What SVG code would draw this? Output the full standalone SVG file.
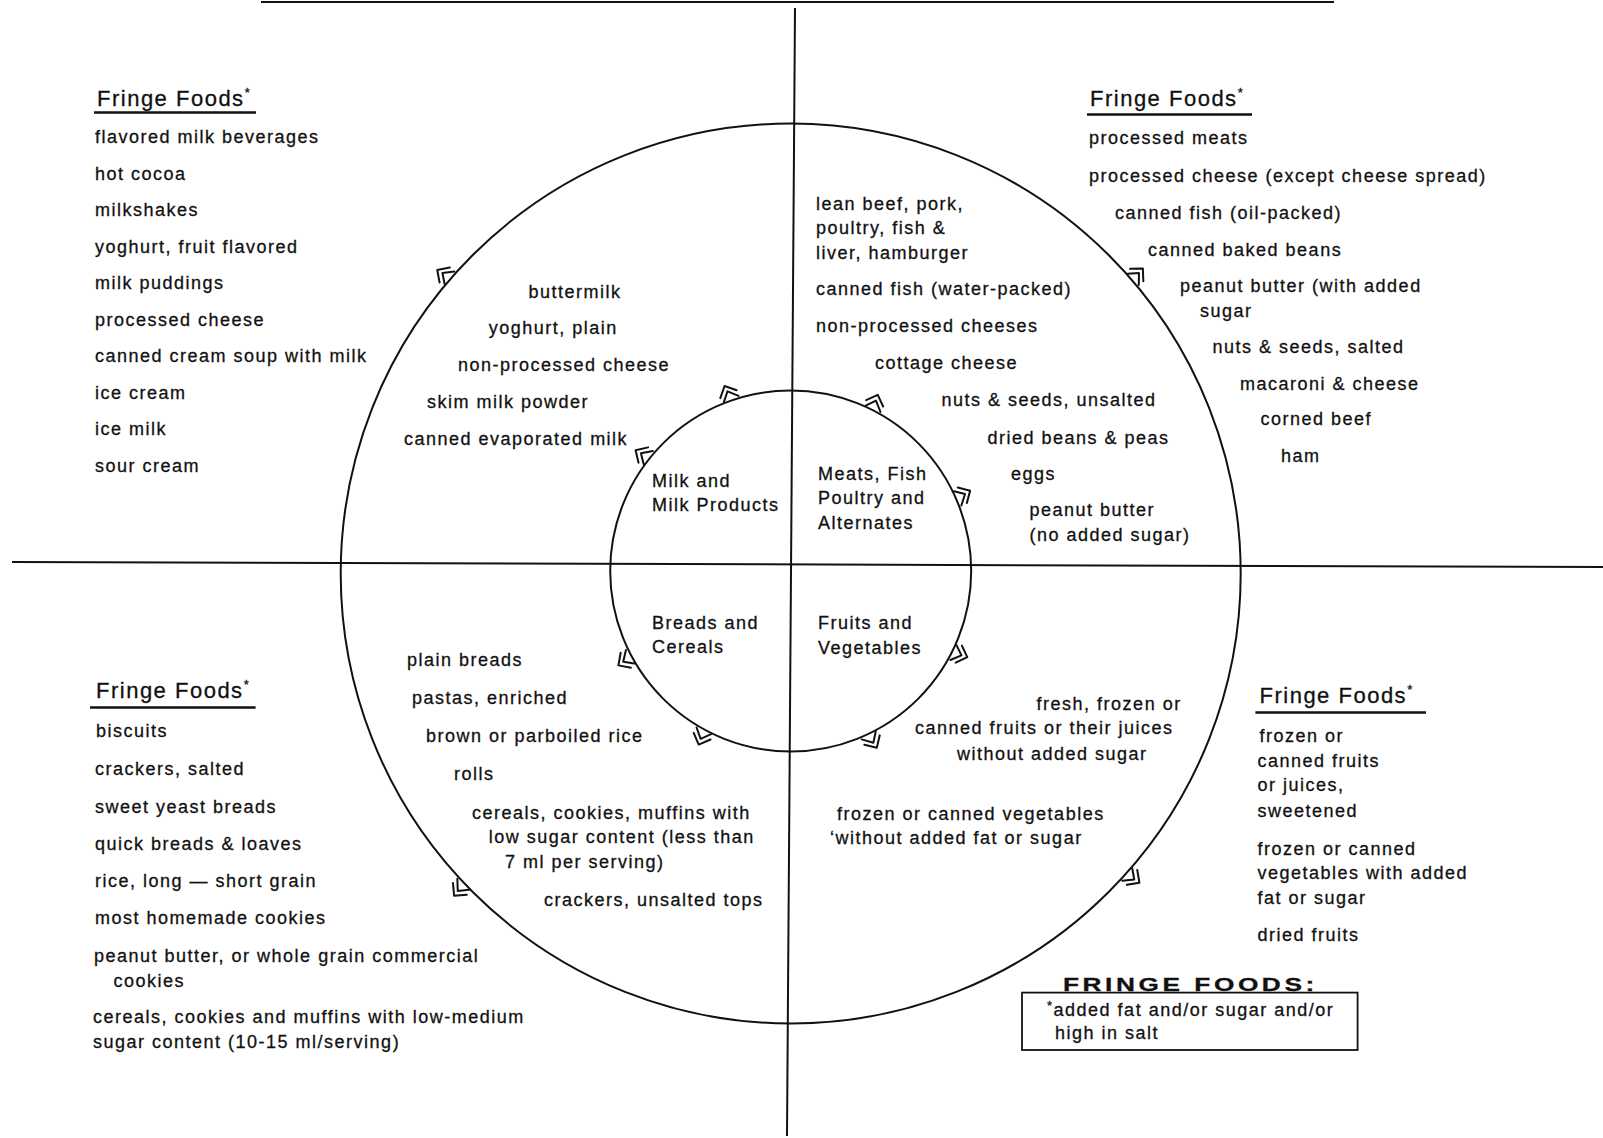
<svg xmlns="http://www.w3.org/2000/svg" width="1603" height="1138" viewBox="0 0 1603 1138">
<style>
text{font-family:"Liberation Sans",Arial,sans-serif;font-size:18px;letter-spacing:1.5px;fill:#111;stroke:#111;stroke-width:0.3px}
.h{font-size:22px;letter-spacing:1.5px}
.sup{font-size:13px}
.ln{stroke:#111;stroke-width:2;fill:none}
.ul{stroke:#111;stroke-width:2.5}
.mk{stroke:#111;stroke-width:2;fill:none;stroke-linecap:round;stroke-linejoin:round}
.leg{font-size:19px;font-weight:bold;letter-spacing:2.6px}
</style>
<defs>
<g id="chev">
<path class="mk" d="M -9,-6 L -1,-16 L 9,-8"/>
<path class="mk" d="M -7,-1 L 0,-10 L 9,-2"/>
</g>
</defs>
<rect width="1603" height="1138" fill="#fff"/>

<g id="connectors">
<line class="ln" x1="261" y1="2" x2="1334" y2="2"/>
<line class="ln" x1="795" y1="8" x2="787" y2="1136"/>
<line class="ln" x1="12" y1="562" x2="1603" y2="567"/>
<circle class="ln" cx="790.7" cy="573.5" r="450"/>
<circle class="ln" cx="790.7" cy="571" r="180.5"/>
<use href="#chev" transform="translate(450,279.6) rotate(-49.2)"/>
<use href="#chev" transform="translate(1131.4,279.6) rotate(49.2)"/>
<use href="#chev" transform="translate(1126.8,872.8) rotate(131.7)"/>
<use href="#chev" transform="translate(465,884) rotate(226.4)"/>
<use href="#chev" transform="translate(730.8,400.8) rotate(-19.4)"/>
<use href="#chev" transform="translate(871.5,409.6) rotate(26.6)"/>
<use href="#chev" transform="translate(648.8,459.4) rotate(-51.8)"/>
<use href="#chev" transform="translate(955.9,498.1) rotate(66.2)"/>
<use href="#chev" transform="translate(952.5,651) rotate(116.3)"/>
<use href="#chev" transform="translate(869,733.7) rotate(154.3)"/>
<use href="#chev" transform="translate(705.4,730) rotate(208.2)"/>
<use href="#chev" transform="translate(632,656.9) rotate(241.6)"/>
</g>

<g id="core-milk">
<text x="652" y="486.6">Milk and</text>
<text x="652" y="511">Milk Products</text>
</g>
<g id="core-meat">
<text x="818" y="479.5">Meats, Fish</text>
<text x="818" y="504">Poultry and</text>
<text x="818" y="528.5">Alternates</text>
</g>
<g id="core-breads">
<text x="652" y="628.7">Breads and</text>
<text x="652" y="653">Cereals</text>
</g>
<g id="core-fruits">
<text x="818" y="628.7">Fruits and</text>
<text x="818" y="654">Vegetables</text>
</g>

<g id="milk-items">
<text x="528.5" y="297.5">buttermilk</text>
<text x="488.7" y="334">yoghurt, plain</text>
<text x="458" y="371">non-processed cheese</text>
<text x="427" y="408">skim milk powder</text>
<text x="404" y="444.7">canned evaporated milk</text>
</g>

<g id="meat-items">
<text x="816" y="209.6">lean beef, pork,</text>
<text x="816" y="234">poultry, fish &amp;</text>
<text x="816" y="258.6">liver, hamburger</text>
<text x="816" y="295.4">canned fish (water-packed)</text>
<text x="816" y="332">non-processed cheeses</text>
<text x="875" y="369">cottage cheese</text>
<text x="941.5" y="405.9">nuts &amp; seeds, unsalted</text>
<text x="987.5" y="443.7">dried beans &amp; peas</text>
<text x="1011" y="479.5">eggs</text>
<text x="1029.5" y="516">peanut butter</text>
<text x="1029.5" y="541">(no added sugar)</text>
</g>

<g id="bread-items">
<text x="407" y="665.5">plain breads</text>
<text x="412" y="704">pastas, enriched</text>
<text x="426" y="742">brown or parboiled rice</text>
<text x="454" y="780">rolls</text>
<text x="472" y="819">cereals, cookies, muffins with</text>
<text x="488.7" y="843.4">low sugar content (less than</text>
<text x="505" y="868">7 ml per serving)</text>
<text x="544" y="905.8">crackers, unsalted tops</text>
</g>

<g id="fruit-items">
<text x="1036.6" y="709.5">fresh, frozen or</text>
<text x="915" y="734">canned fruits or their juices</text>
<text x="957" y="759.6">without added sugar</text>
<text x="837" y="820">frozen or canned vegetables</text>
<text x="830" y="844.4">‘without added fat or sugar</text>
</g>

<g id="fringe-milk">
<text class="h" x="97" y="106">Fringe Foods<tspan class="sup" dy="-9">*</tspan></text>
<line class="ul" x1="94" y1="112.5" x2="256" y2="112.5"/>
<text x="95" y="143">flavored milk beverages</text>
<text x="95" y="179.5">hot cocoa</text>
<text x="95" y="216">milkshakes</text>
<text x="95" y="252.5">yoghurt, fruit flavored</text>
<text x="95" y="289">milk puddings</text>
<text x="95" y="325.5">processed cheese</text>
<text x="95" y="362">canned cream soup with milk</text>
<text x="95" y="398.5">ice cream</text>
<text x="95" y="435">ice milk</text>
<text x="95" y="471.5">sour cream</text>
</g>

<g id="fringe-meat">
<text class="h" x="1090" y="106.3">Fringe Foods<tspan class="sup" dy="-9">*</tspan></text>
<line class="ul" x1="1087" y1="114.5" x2="1252" y2="114.5"/>
<text x="1089" y="144">processed meats</text>
<text x="1089" y="182">processed cheese (except cheese spread)</text>
<text x="1115" y="218.8">canned fish (oil-packed)</text>
<text x="1148" y="255.6">canned baked beans</text>
<text x="1180" y="292.4">peanut butter (with added</text>
<text x="1200" y="317">sugar</text>
<text x="1212.5" y="352.7">nuts &amp; seeds, salted</text>
<text x="1240" y="389.5">macaroni &amp; cheese</text>
<text x="1260.5" y="425">corned beef</text>
<text x="1281" y="462">ham</text>
</g>

<g id="fringe-breads">
<text class="h" x="96" y="698">Fringe Foods<tspan class="sup" dy="-9">*</tspan></text>
<line class="ul" x1="90" y1="707.4" x2="255.6" y2="707.4"/>
<text x="96" y="737">biscuits</text>
<text x="95" y="775">crackers, salted</text>
<text x="95" y="812.7">sweet yeast breads</text>
<text x="95" y="849.5">quick breads &amp; loaves</text>
<text x="95" y="887">rice, long — short grain</text>
<text x="95" y="924">most homemade cookies</text>
<text x="94" y="962">peanut butter, or whole grain commercial</text>
<text x="113.5" y="986.5">cookies</text>
<text x="93" y="1023">cereals, cookies and muffins with low-medium</text>
<text x="93" y="1048">sugar content (10-15 ml/serving)</text>
</g>

<g id="fringe-fruits">
<text class="h" x="1259.5" y="703">Fringe Foods<tspan class="sup" dy="-9">*</tspan></text>
<line class="ul" x1="1255.4" y1="712.5" x2="1426" y2="712.5"/>
<text x="1259.5" y="742">frozen or</text>
<text x="1257.4" y="766.7">canned fruits</text>
<text x="1257.4" y="791">or juices,</text>
<text x="1257.4" y="817">sweetened</text>
<text x="1257.4" y="854.6">frozen or canned</text>
<text x="1257.4" y="879">vegetables with added</text>
<text x="1257.4" y="903.7">fat or sugar</text>
<text x="1257.4" y="940.5">dried fruits</text>
</g>

<g id="legend">
<text class="leg" transform="translate(1063,991) scale(1.38,1)">FRINGE FOODS:</text>
<rect x="1022" y="992.6" width="335.6" height="57.4" fill="none" stroke="#111" stroke-width="1.8"/>
<text x="1047" y="1016"><tspan class="sup" dy="-6">*</tspan><tspan dy="6">added fat and/or sugar and/or</tspan></text>
<text x="1055" y="1038.6">high in salt</text>
</g>
</svg>
